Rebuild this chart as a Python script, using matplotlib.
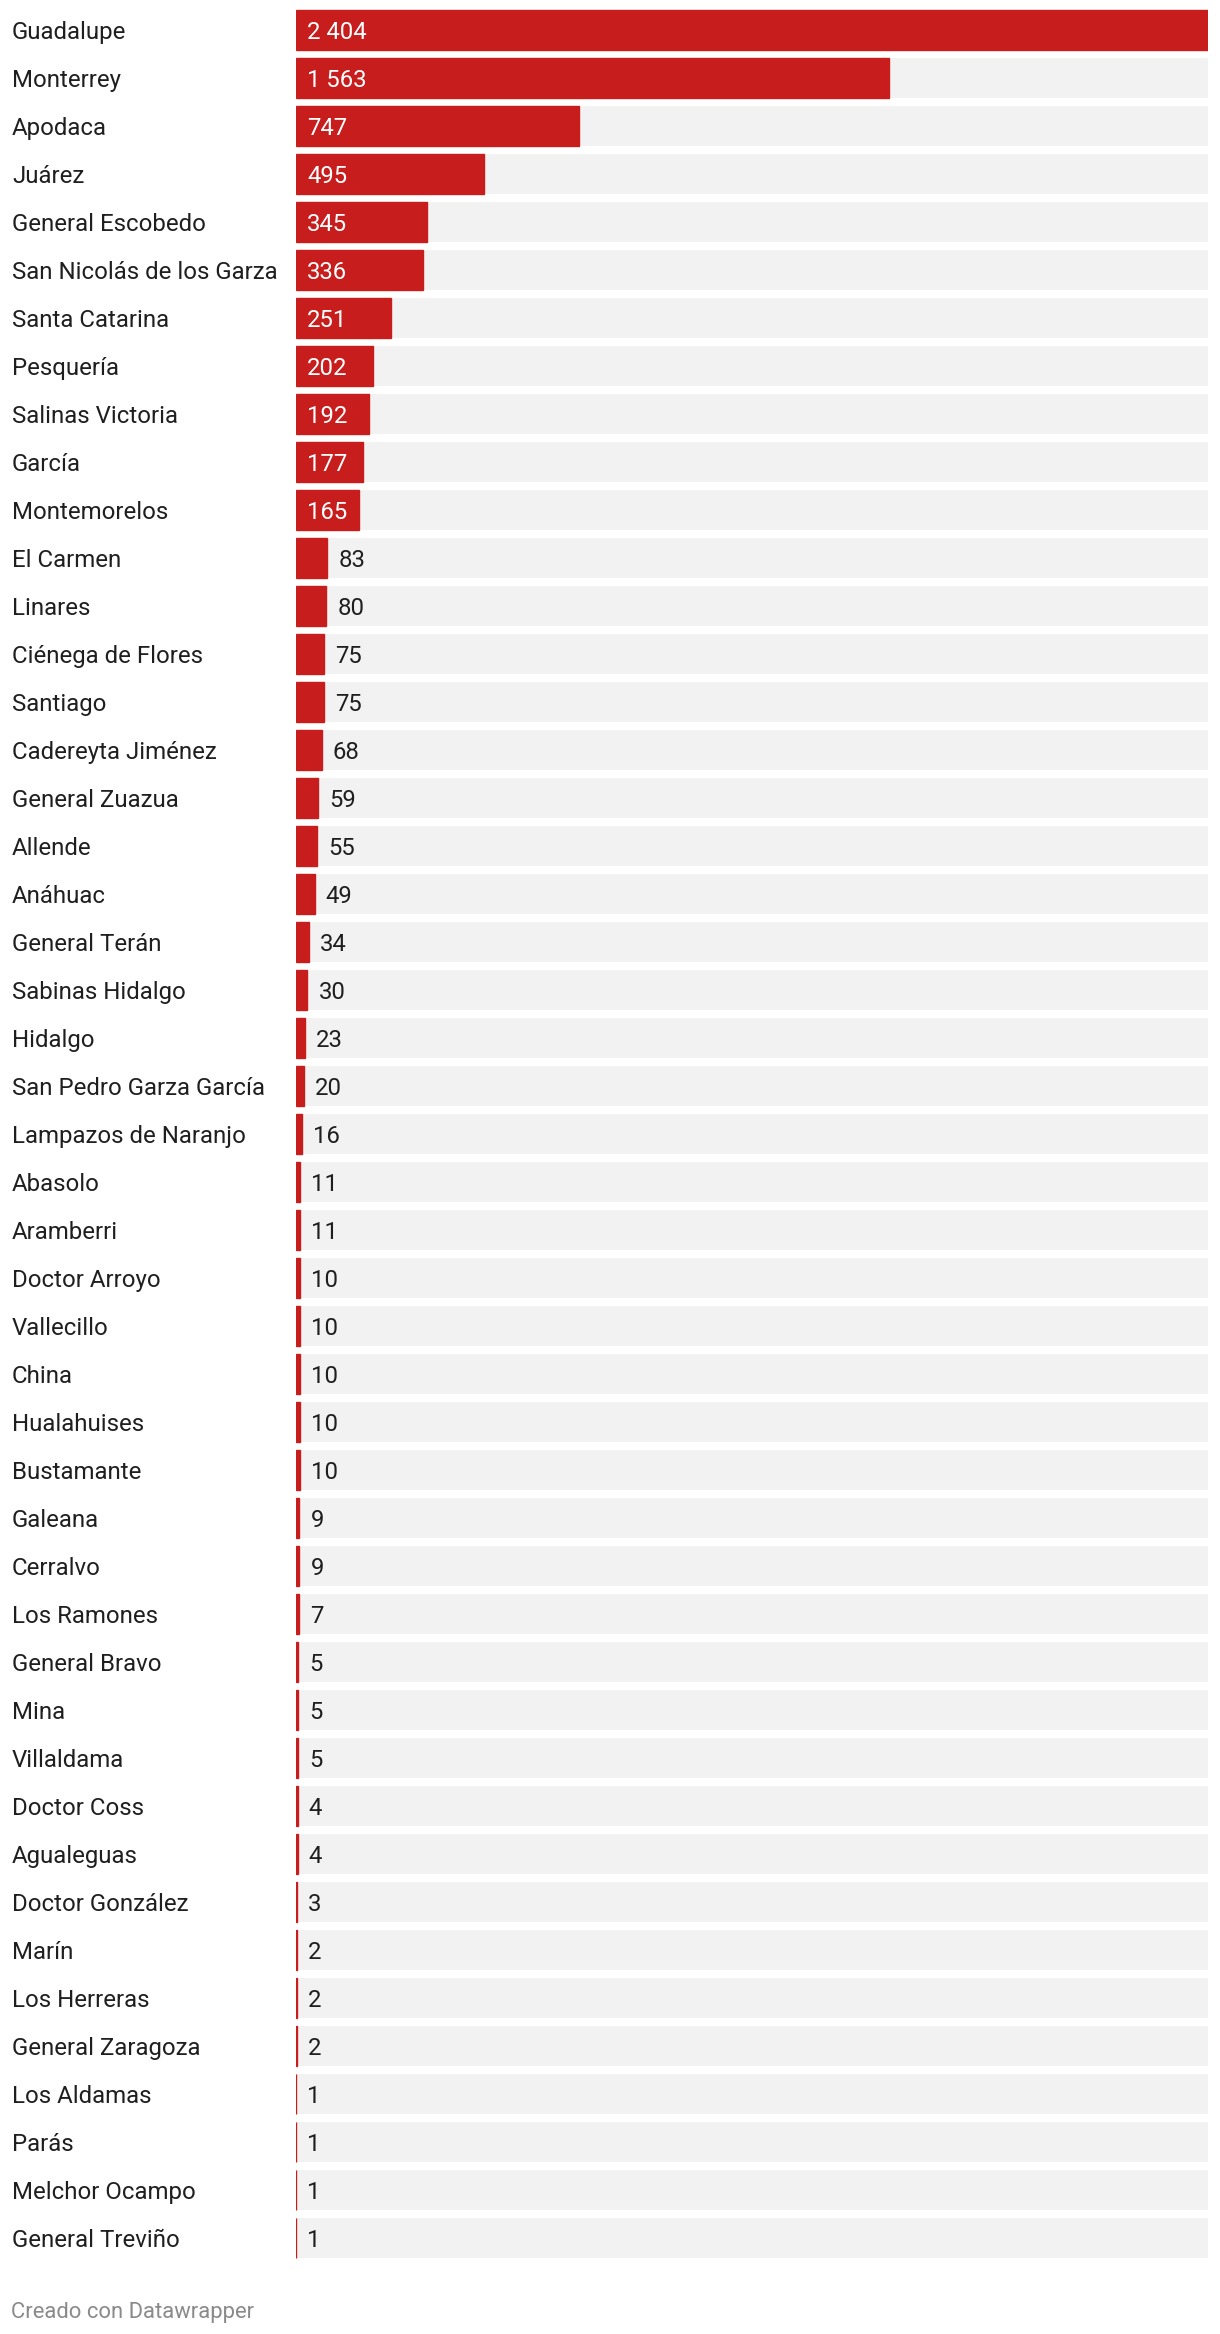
import matplotlib
matplotlib.use("Agg")
import matplotlib.pyplot as plt
from matplotlib.transforms import blended_transform_factory

plt.rcParams['font.family'] = ['Roboto', 'DejaVu Sans']

municipios = [
    "Guadalupe", "Monterrey", "Apodaca", "Juárez", "General Escobedo",
    "San Nicolás de los Garza", "Santa Catarina", "Pesquería", "Salinas Victoria",
    "García", "Montemorelos", "El Carmen", "Linares", "Ciénega de Flores",
    "Santiago", "Cadereyta Jiménez", "General Zuazua", "Allende", "Anáhuac",
    "General Terán", "Sabinas Hidalgo", "Hidalgo", "San Pedro Garza García",
    "Lampazos de Naranjo", "Abasolo", "Aramberri", "Doctor Arroyo", "Vallecillo",
    "China", "Hualahuises", "Bustamante", "Galeana", "Cerralvo", "Los Ramones",
    "General Bravo", "Mina", "Villaldama", "Doctor Coss", "Agualeguas",
    "Doctor González", "Marín", "Los Herreras", "General Zaragoza",
    "Los Aldamas", "Parás", "Melchor Ocampo", "General Treviño",
]
casos = [
    2404, 1563, 747, 495, 345, 336, 251, 202, 192, 177, 165, 83, 80, 75, 75,
    68, 59, 55, 49, 34, 30, 23, 20, 16, 11, 11, 10, 10, 10, 10, 10, 9, 9, 7,
    5, 5, 5, 4, 4, 3, 2, 2, 2, 1, 1, 1, 1,
]

RED = "#c71e1d"
GREY = "#f2f2f2"
TEXT = "#1f1f1f"

W, H = 1220, 2334
fig = plt.figure(figsize=(W / 100, H / 100), dpi=100)

# axes in pixel terms: bars from x=296 to 1208, rows pitch 48px starting at y=10
n = len(municipios)
left, right = 296, 1208
top = 6
bottom = top + 48 * n
ax = fig.add_axes([left / W, 1 - bottom / H, (right - left) / W, (bottom - top) / H])

vmax = max(casos)
ys = list(range(n))
ax.barh(ys, [vmax] * n, height=40 / 48, color=GREY, linewidth=0)
# thin edge so that the tiny bars (value 1) still show as a red line
ax.barh(ys, casos, height=40 / 48 - 0.01, color=RED, edgecolor=RED, linewidth=1.0)
ax.set_xlim(0, vmax)
ax.set_ylim(n - 0.5, -0.5)
ax.axis("off")

def fmt(v):
    return f"{v:,}".replace(",", " ")

px = vmax / (right - left)  # data units per pixel
for y, v in zip(ys, casos):
    if v >= 100:
        ax.text(11 * px, y, fmt(v), color="white", fontsize=17.2,
                ha="left", va="center_baseline")
    else:
        ax.text(v + 11 * px, y, fmt(v), color=TEXT, fontsize=17.2,
                ha="left", va="center_baseline")

trans = blended_transform_factory(fig.transFigure, ax.transData)
for y, name in zip(ys, municipios):
    ax.text(12 / W, y, name, transform=trans, color=TEXT, fontsize=17.3,
            ha="left", va="center_baseline")

fig.text(11 / W, 1 - 2310 / H, "Creado con Datawrapper", color="#8a8a8a",
         fontsize=15.8, ha="left", va="center_baseline")

fig.savefig("out.png", dpi=100, facecolor="white")
